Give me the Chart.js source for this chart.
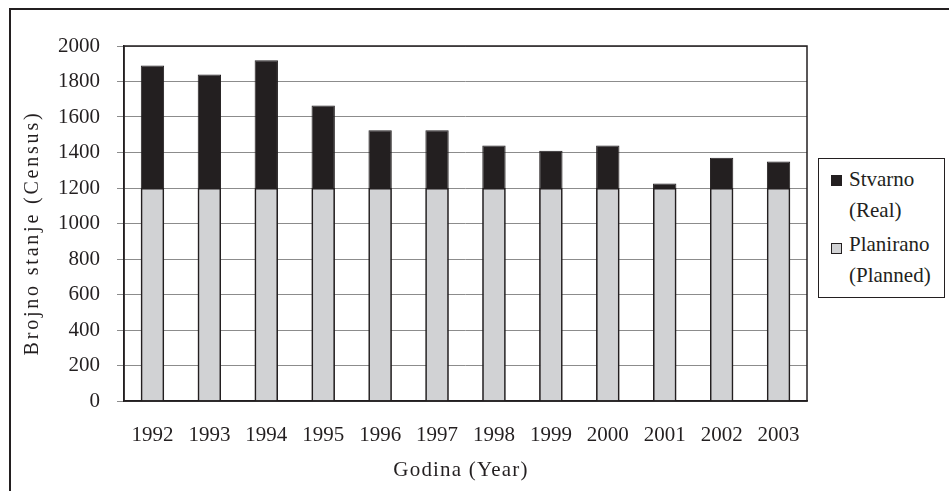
<!DOCTYPE html>
<html>
<head>
<meta charset="utf-8">
<script src="https://cdn.jsdelivr.net/npm/chart.js@4/dist/chart.umd.min.js"></script>
<style>
  html, body { margin: 0; padding: 0; background: #fff; }
  #wrap { position: relative; width: 949px; height: 491px; overflow: hidden;
          font-family: 'Liberation Serif', serif; color: #231f20; }
  #frame { position: absolute; left: 9px; top: 8px; width: 980px; height: 520px;
           border-left: 2px solid #231f20; border-top: 2px solid #231f20; }
  canvas { position: absolute; left: 0; top: 0; }
  #legend { position: absolute; left: 818px; top: 158px; width: 127px; height: 140px;
            border: 1px solid #231f20; box-sizing: border-box; background: #fff; }
  .sw { position: absolute; left: 12px; width: 11px; height: 11px; box-sizing: border-box;
        border: 1px solid #231f20; }
  .lab { position: absolute; left: 30px; font-size: 21px; line-height: 31px; white-space: nowrap; }
  #xtitle { position: absolute; left: 336px; width: 250px; top: 457px; text-align: center;
            font-size: 21px; line-height: 24px; letter-spacing: 1.2px; }
  #ytitle { position: absolute; left: -119px; width: 300px; top: 221px; text-align: center;
            font-size: 20px; line-height: 24px; letter-spacing: 2.8px; transform: rotate(-90deg); }
</style>
</head>
<body>
<div id="wrap">
  <div id="frame"></div>
  <canvas id="chart" width="949" height="491"></canvas>
  <div id="ytitle">Brojno stanje (Census)</div>
  <div id="xtitle">Godina (Year)</div>
  <div id="legend">
    <div class="sw" style="top:16px; background:#231f20;"></div>
    <div class="lab" style="top:5px;">Stvarno<br>(Real)</div>
    <div class="sw" style="top:84px; background:#d1d2d4;"></div>
    <div class="lab" style="top:70px;">Planirano<br>(Planned)</div>
  </div>
</div>

<script>
/* ================= DATA ================= */
const years = ["1992", "1993", "1994", "1995", "1996", "1997", "1998", "1999", "2000", "2001", "2002", "2003"];
const planned = [1200, 1200, 1200, 1200, 1200, 1200, 1200, 1200, 1200, 1200, 1200, 1200];
const real = [1890, 1840, 1920, 1665, 1525, 1525, 1440, 1410, 1440, 1225, 1370, 1350];
const yMin = 0, yMax = 2000, yStep = 200;

const INK = "#231f20";
const tickFont = { family: "'Liberation Serif', serif", size: 21 };

/* frame round the plot area */
const plotBorder = {
  id: "plotBorder",
  afterDatasetsDraw(chart) {
    const a = chart.chartArea, ctx = chart.ctx;
    ctx.save();
    ctx.strokeStyle = INK;
    ctx.lineWidth = 1.5;
    ctx.strokeRect(a.left, a.top, a.right - a.left, a.bottom - a.top);
    ctx.restore();
  }
};

/* ================= CHART ================= */
new Chart(document.getElementById("chart"), {
  type: "bar",
  data: {
    labels: years,
    datasets: [
      {
        label: "Planirano (Planned)",
        data: planned,
        backgroundColor: "#d1d2d4",
        borderColor: INK,
        borderWidth: 1.5,
        grouped: false,
        barPercentage: 0.41,
        categoryPercentage: 1
      },
      {
        label: "Stvarno (Real)",
        data: real,
        backgroundColor: INK,
        borderColor: INK,
        borderWidth: 1,
        grouped: false,
        barPercentage: 0.41,
        categoryPercentage: 1
      }
    ]
  },
  options: {
    responsive: false,
    animation: false,
    layout: { padding: { left: 10, top: 46, right: 142, bottom: 0 } },
    plugins: {
      legend: { display: false },
      tooltip: { enabled: false }
    },
    scales: {
      x: {
        grid: { display: false, drawTicks: false },
        border: { display: true, color: INK, width: 1.5 },
        ticks: { font: tickFont, color: INK, padding: 22, maxRotation: 0 },
        afterFit: s => { s.height = 90; }
      },
      y: {
        min: yMin,
        max: yMax,
        ticks: {
          stepSize: yStep, font: tickFont, color: INK, padding: 17,
          callback: v => String(v)
        },
        grid: { color: "#8c8c8c", lineWidth: 1, tickLength: 7 },
        border: { color: INK, width: 1.5 },
        afterFit: s => { s.width = 114; }
      }
    }
  },
  plugins: [plotBorder]
});
</script>
</body>
</html>
